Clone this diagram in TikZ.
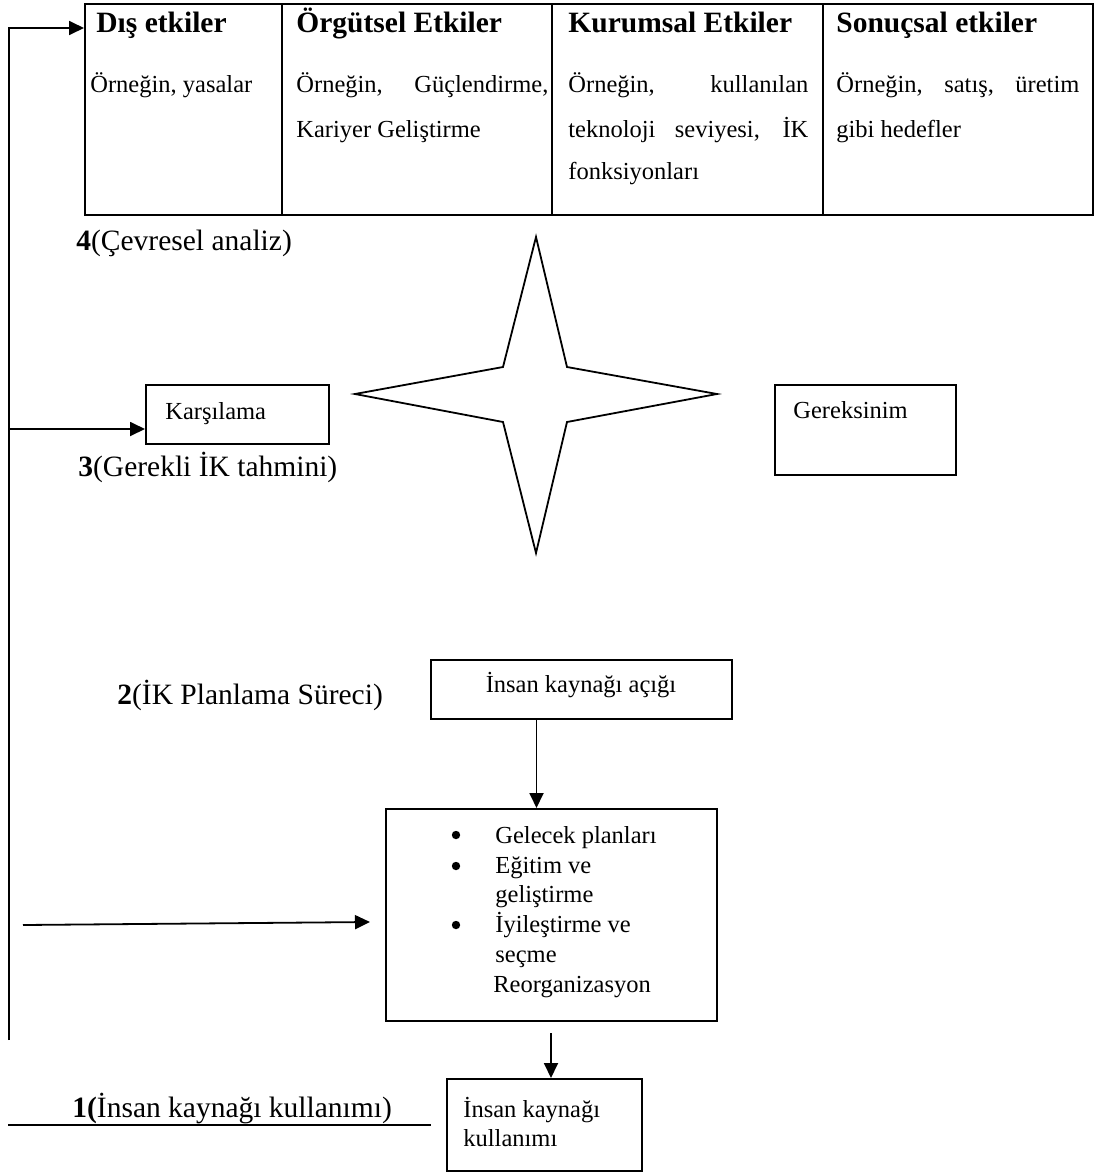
\documentclass[tikz,border=0pt]{standalone}
\usepackage{fontspec}
\setmainfont{Liberation Serif}
\usetikzlibrary{arrows.meta,calc}
\newcommand\txtsmall{\fontsize{12.25pt}{14pt}\selectfont}
\newcommand\txtlarge{\fontsize{14.75pt}{17pt}\selectfont}
\begin{document}
\begin{tikzpicture}[x=0.5pt,y=-0.5pt,
  box/.style={draw, line width=1pt, rectangle, inner sep=0pt, anchor=north west},
  arr/.style={line width=0.9pt, -{Triangle[length=7.5pt,width=7pt]}},
  plain/.style={line width=0.9pt},
  lbl/.style={anchor=base west, inner sep=0pt, font=\txtsmall},
  head/.style={anchor=base west, inner sep=0pt, font=\txtlarge\bfseries},
  steplbl/.style={anchor=base west, inner sep=0pt, font=\txtlarge},
  bulletdot/.style={circle, fill, inner sep=0pt, minimum size=4.2pt}]
\useasboundingbox (0,0) rectangle (1100,1173);

% ---- influence table ----
\node[box, minimum width=504pt, minimum height=105.5pt] (tbl) at (84,3) {};
\draw[line width=1pt] (282,3) -- (282,214);
\draw[line width=1pt] (552,3) -- (552,214);
\draw[line width=1pt] (823,3) -- (823,214);

\node[head] (h1) at (96,32) {Dış etkiler};
\node[head] (h2) at (296,32) {Örgütsel Etkiler};
\node[head] (h3) at (568,32) {Kurumsal Etkiler};
\node[head] (h4) at (836,32) {Sonuçsal etkiler};

\node[lbl] (c1a) at (90,92) {Örneğin, yasalar};
\node[lbl] (c2a) at (296,92) {\makebox[126pt][s]{Örneğin, Güçlendirme,}};
\node[lbl] (c2b) at (296,137) {Kariyer Geliştirme};
\node[lbl] (c3a) at (568,92) {\makebox[120pt][s]{Örneğin, kullanılan}};
\node[lbl] (c3b) at (568,137) {\makebox[120pt][s]{teknoloji seviyesi, İK}};
\node[lbl] (c3c) at (568,179) {fonksiyonları};
\node[lbl] (c4a) at (836,92) {\makebox[121.5pt][s]{Örneğin, satış, üretim}};
\node[lbl] (c4b) at (836,137) {gibi hedefler};

% ---- step labels ----
\node[steplbl] (s4) at (76,250) {\textbf{4}(Çevresel analiz)};
\node[steplbl] (s3) at (78,476) {\textbf{3}(Gerekli İK tahmini)};
\node[steplbl] (s2) at (117,704) {\textbf{2}(İK Planlama Süreci)};
\node[steplbl] (s1) at (72,1117) {\textbf{1(}İnsan kaynağı kullanımı)};

% ---- balance: supply and demand ----
\node[box, minimum width=91.5pt, minimum height=29.5pt] (kars) at (145,384) {};
\node[lbl] (karst) at (165,419) {Karşılama};
\node[box, minimum width=90.5pt, minimum height=45pt] (gerek) at (774,384) {};
\node[lbl] (gerekt) at (793,418) {Gereksinim};

\draw[line width=0.9pt, line join=miter]
  (536,237) -- (567,367) -- (717,394) -- (567,422) -- (536,553)
  -- (503,422) -- (355,394) -- (503,367) -- cycle;

% ---- planning process ----
\node[box, minimum width=150.5pt, minimum height=29.5pt] (acik) at (430,659) {};
\node[anchor=base, inner sep=0pt, font=\txtsmall] (acikt) at (581,692) {İnsan kaynağı açığı};

\node[box, minimum width=165.5pt, minimum height=106pt] (plan) at (385,808) {};
\node[bulletdot] (b1) at (456,835) {};
\node[bulletdot] (b2) at (456,866) {};
\node[bulletdot] (b3) at (456,925) {};
\node[lbl] (p1) at (495,843) {Gelecek planları};
\node[lbl] (p2) at (495,873) {Eğitim ve};
\node[lbl] (p3) at (495,902) {geliştirme};
\node[lbl] (p4) at (495,932) {İyileştirme ve};
\node[lbl] (p5) at (495,962) {seçme};
\node[lbl] (p6) at (493,992) {Reorganizasyon};

\node[box, minimum width=97.5pt, minimum height=46pt] (kul) at (446,1078) {};
\node[lbl] (kult1) at (463,1117) {İnsan kaynağı};
\node[lbl] (kult2) at (463,1146) {kullanımı};

% ---- connectors ----
\coordinate (lt) at (9,28);
\coordinate (lb) at (9,1040);
\coordinate (lk) at (9,429);
\draw[arr] (lb) -- (lt) -- (tbl.north west |- lt);
\draw[arr] (lk) -- (kars.west |- lk);

\draw[arr] ([xshift=-22.5pt]acik.south) -- ([xshift=-22.5pt]acik.south |- plan.north);

\coordinate (fs) at (23,925);
\coordinate (fe) at (370,922);
\draw[arr] (fs) -- (fe);

\coordinate (ks) at (551,1033);
\draw[arr] (ks) -- (ks |- kul.north);

\coordinate (us) at (8,1125);
\coordinate (ue) at (431,1125);
\draw[plain] (us) -- (ue);
\end{tikzpicture}
\end{document}
